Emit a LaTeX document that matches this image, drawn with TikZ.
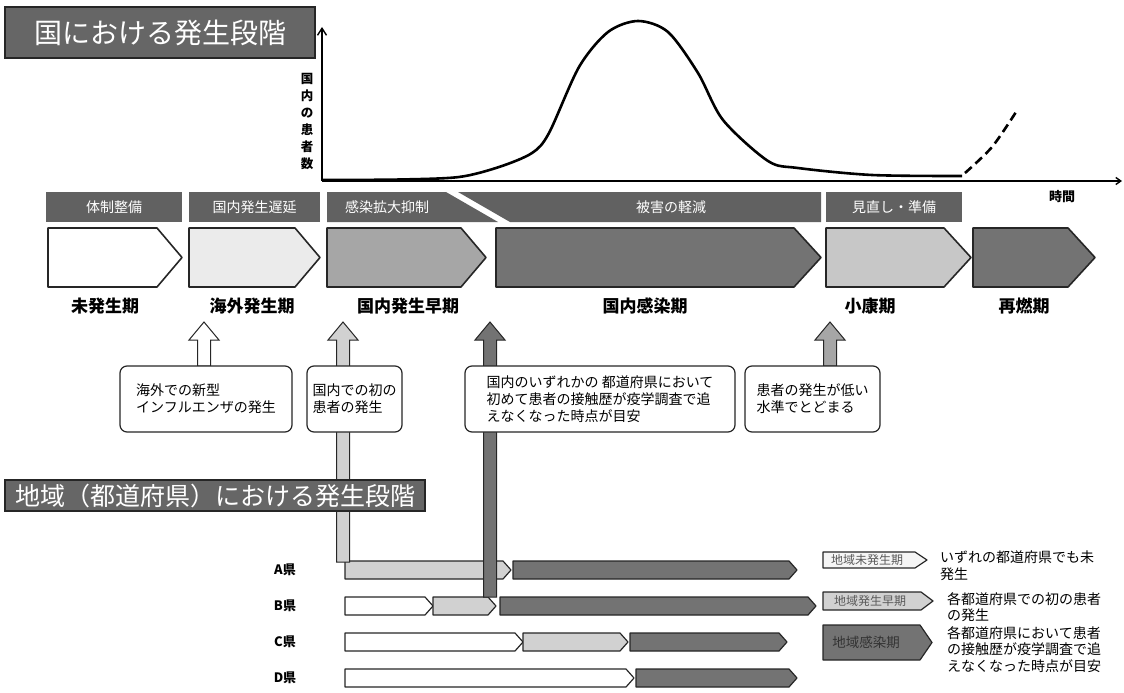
\documentclass[tikz,border=0pt]{standalone}
\usepackage{fontspec}
\setmainfont{Noto Sans CJK JP}
\usetikzlibrary{arrows.meta}
\begin{document}
\begin{tikzpicture}[x=1pt, y=-1pt,
    title/.style={fill=black!60, draw=black!85, line width=1.5pt, text=white,
      inner sep=0pt},
    task/.style={fill=black!62, text=white, font=\fontsize{14}{14}\selectfont,
      inner sep=0pt, minimum height=30pt},
    phase/.style={draw=black!85, line width=1.6pt, line join=round},
    period/.style={font=\bfseries\fontsize{17}{17}\selectfont},
    event/.style={draw=black!85, fill=white, line width=1.2pt, rounded corners=7pt,
      align=left, font=\fontsize{14}{17}\selectfont, inner sep=0pt,
      minimum height=66pt},
    up/.style={draw=black!85, line width=1pt, line join=miter},
    pref/.style={font=\bfseries\fontsize{13}{13}\selectfont},
    bar/.style={draw=black!85, line width=1.2pt, line join=round},
    note/.style={align=left, font=\fontsize{14}{16.5}\selectfont, anchor=north west,
      inner sep=0pt}]
  \useasboundingbox (0,0) rectangle (1124,693);

  % national stages
  \node[title, font=\fontsize{28}{28}\selectfont, minimum width=310pt,
    minimum height=51pt] (natl) at (160,32.5) {国における発生段階};
  \coordinate (o) at (322,181);
  \draw[line width=1.4pt, -{Straight Barb[length=7pt, width=9pt]}] (o) -- (322,27);
  \draw[line width=1.4pt, -{Straight Barb[length=5pt, width=7pt]}] (o) -- (1122,181);
  \node[font=\bfseries\fontsize{12.5}{17}\selectfont, align=center, anchor=north,
    inner sep=0pt] (ylab) at (307,73) {国\\内\\の\\患\\者\\数};
  \node[font=\bfseries\fontsize{13}{13}\selectfont] (time) at (1062,197) {時間};
  \draw[line width=2.6pt, line join=round] plot[smooth, tension=0.5] coordinates
    {(323,180) (400,179.5) (459,177) (499,167) (532,153) (549,133) (579,67)
     (608,32) (638,21) (668,32) (698,73) (723,120) (768,161) (798,168)
     (872,175) (962,176)};
  \draw[line width=2.6pt, dash pattern=on 9pt off 5pt] plot[smooth, tension=0.5]
    coordinates {(965,173) (992,147) (1016,112)};

  % measures
  \node[task, minimum width=136pt] (h1) at (114,207) {体制整備};
  \node[task, minimum width=131pt] (h2) at (254.5,207) {国内発生遅延};
  \fill[black!62] (327,192) -- (446,192) -- (498,222) -- (327,222) -- cycle;
  \node[text=white, font=\fontsize{14}{14}\selectfont] (h3) at (387,207) {感染拡大抑制};
  \fill[black!62] (458,192) -- (821,192) -- (821,222) -- (510,222) -- cycle;
  \node[text=white, font=\fontsize{14}{14}\selectfont] (h4) at (671,207) {被害の軽減};
  \node[task, minimum width=136pt] (h5) at (894,207) {見直し・準備};

  % stages
  \foreach \xa/\xb/\xc/\col in {48/157/182/white, 189/295/320/black!8,
      327/461/486/black!35, 496/794/821/black!55, 826/944/971/black!22,
      973/1068/1095/black!55}
    \draw[phase, fill=\col] (\xa,228) -- (\xb,228) -- (\xc,257.5) -- (\xb,287)
      -- (\xa,287) -- cycle;
  \begin{scope}[every node/.style={period}]
    \node (p1) at (105,306) {未発生期};
    \node (p2) at (252,306) {海外発生期};
    \node (p3) at (408,306) {国内発生早期};
    \node (p4) at (645,306) {国内感染期};
    \node (p5) at (870,306) {小康期};
    \node (p6) at (1024,306) {再燃期};
  \end{scope}

  % prefectures
  \begin{scope}[every node/.style={pref}]
    \node (ka) at (285,570) {A県};
    \node (kb) at (285,606) {B県};
    \node (kc) at (285,642) {C県};
    \node (kd) at (285,678) {D県};
  \end{scope}
  \foreach \xa/\xb/\y/\col in {345/511/570/black!18, 513/797/570/black!55,
      345/433/606/white, 433/496/606/black!18, 500/816/606/black!55,
      345/523/642/white, 523/628/642/black!18, 630/787/642/black!55,
      345/634/678/white, 636/797/678/black!55}
    \draw[bar, fill=\col] (\xa,\y-9) -- (\xb-8,\y-9) -- (\xb,\y) -- (\xb-8,\y+9)
      -- (\xa,\y+9) -- cycle;

  % triggers
  \coordinate (a1) at (204,322);
  \coordinate (a2) at (343,322);
  \coordinate (a3) at (490,322);
  \coordinate (a4) at (830,322);
  \foreach \a/\len/\col in {a1/44/white, a2/240/black!18, a3/275/black!55,
      a4/44/black!35}
    \draw[up, fill=\col] (\a) -- ++(15,18) -- ++(-8.5,0) -- ++(0,\len-18)
      -- ++(-13,0) -- ++(0,18-\len) -- ++(-8.5,0) -- cycle;
  \node[event, minimum width=172pt] (e1) at (206,399)
    {海外での新型\\インフルエンザの発生};
  \node[event, minimum width=95pt] (e2) at (354.5,399) {国内での初の\\患者の発生};
  \node[event, minimum width=270pt] (e3) at (600,399)
    {国内のいずれかの 都道府県において\\初めて患者の接触歴が疫学調査で追\\えなくなった時点が目安};
  \node[event, minimum width=135pt] (e4) at (812.5,399) {患者の発生が低い\\水準でとどまる};

  % regional stages
  \node[title, font=\fontsize{25}{25}\selectfont, minimum width=420pt,
    minimum height=31pt] (regn) at (215,495.5) {地域（都道府県）における発生段階};

  % legend
  \foreach \xb/\ya/\yb/\col in {927/552/568/black!4, 933/592/610/black!18,
      932/625/660/black!55}
    \draw[bar, fill=\col] (823,\ya) -- (\xb-12,\ya) -- (\xb,{(\ya+\yb)/2})
      -- (\xb-12,\yb) -- (823,\yb) -- cycle;
  \begin{scope}[every node/.style={font=\fontsize{12}{12}\selectfont, text=black!65}]
    \node (l1) at (867,560) {地域未発生期};
    \node (l2) at (870,601) {地域発生早期};
    \node[font=\fontsize{13.5}{13.5}\selectfont, text=black!80] (l3) at (866,642.5)
      {地域感染期};
  \end{scope}
  \node[note] (n1) at (940,551) {いずれの都道府県でも未\\発生};
  \node[note] (n2) at (947,592) {各都道府県での初の患者\\の発生};
  \node[note] (n3) at (947,626)
    {各都道府県において患者\\の接触歴が疫学調査で追\\えなくなった時点が目安};
\end{tikzpicture}
\end{document}
